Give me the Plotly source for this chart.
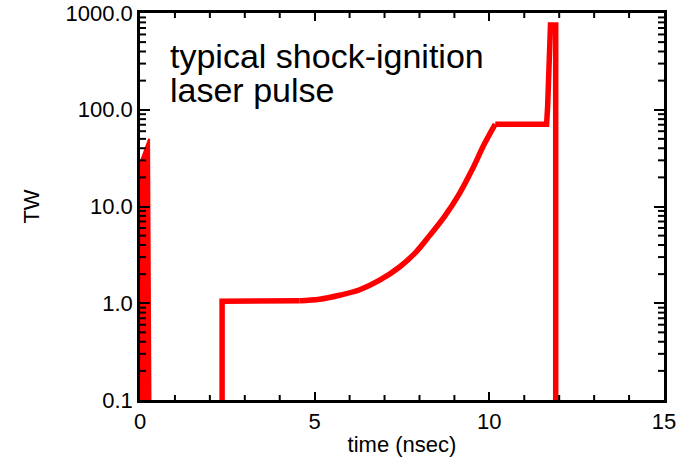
import plotly.graph_objects as go

# Pre-pulse (picket) at t ~ 0
pre_t = [0.0, 0.0, 0.05, 0.10, 0.15, 0.20, 0.26, 0.30, 0.0]
pre_p = [0.1, 28.0, 31.0, 35.0, 39.0, 44.0, 50.0, 0.1, 0.1]

# Foot of the main pulse
foot_t = [2.35, 2.35, 4.57]
foot_p = [0.1, 1.05, 1.06]

# Ramp
ramp_t = [4.57, 5.14, 5.71, 6.29, 6.86, 7.43, 7.9, 8.29, 8.71, 9.14, 9.52, 9.86, 10.17]
ramp_p = [1.06, 1.10, 1.21, 1.38, 1.73, 2.37, 3.38, 5.0, 7.8, 13.5, 24.5, 44.4, 71.0]

# Plateau and ignition spike
spike_t = [10.17, 11.64, 11.67, 11.69, 11.72, 11.75, 11.9, 11.9]
spike_p = [71.0, 71.0, 110.0, 215.0, 480.0, 750.0, 750.0, 0.1]

X_RANGE = [0.0, 15.0]
Y_RANGE_LOG = [-1, 3]
y_tickvals = [0.1, 1, 10, 100, 1000]
y_ticktext = ["0.1", "1.0", "10.0", "100.0", "1000.0"]
y_minor = [m * d for d in (0.1, 1, 10, 100) for m in range(2, 10)]
x_tickvals = [0, 5, 10, 15]
x_minor = [v for v in range(1, 15) if v % 5 != 0]

FONT = "Liberation Sans, Arial, Helvetica, sans-serif"
RED = "#ff0000"
W, H = 688, 460
M = dict(l=140, r=24, t=13, b=60)
PW = W - M["l"] - M["r"]
PH = H - M["t"] - M["b"]

fig = go.Figure()
fig.add_trace(go.Scatter(
    x=pre_t, y=pre_p, mode="lines", fill="toself", fillcolor=RED,
    line=dict(color=RED, width=2), hoverinfo="skip", showlegend=False))
fig.add_trace(go.Scatter(
    x=foot_t, y=foot_p, mode="lines",
    line=dict(color=RED, width=5.5), showlegend=False))
fig.add_trace(go.Scatter(
    x=ramp_t, y=ramp_p, mode="lines",
    line=dict(color=RED, width=5.5, shape="spline", smoothing=1), showlegend=False))
fig.add_trace(go.Scatter(
    x=spike_t, y=spike_p, mode="lines",
    line=dict(color=RED, width=5.5), showlegend=False))

# Minor tick marks on all four sides (inside), as segments in data units
dx = 6.0 * (X_RANGE[1] - X_RANGE[0]) / PW           # 6 px in time units
dlog = 5.0 * (Y_RANGE_LOG[1] - Y_RANGE_LOG[0]) / PH  # 5 px in decades
ylo, yhi = 10 ** Y_RANGE_LOG[0], 10 ** Y_RANGE_LOG[1]
tx, ty = [], []
for v in y_minor:
    tx += [X_RANGE[0], X_RANGE[0] + dx, None, X_RANGE[1] - dx, X_RANGE[1], None]
    ty += [v, v, None, v, v, None]
for v in x_minor:
    tx += [v, v, None, v, v, None]
    ty += [ylo, ylo * 10 ** dlog, None, yhi / 10 ** dlog, yhi, None]
fig.add_trace(go.Scatter(x=tx, y=ty, mode="lines", connectgaps=False,
                         line=dict(color="black", width=2),
                         hoverinfo="skip", showlegend=False))

fig.add_annotation(text="typical shock-ignition", xref="paper", yref="paper",
                   x=0.054, y=0.889, xanchor="left", yanchor="middle",
                   showarrow=False, font=dict(family=FONT, size=34, color="black"))
fig.add_annotation(text="laser pulse", xref="paper", yref="paper",
                   x=0.054, y=0.801, xanchor="left", yanchor="middle",
                   showarrow=False, font=dict(family=FONT, size=34, color="black"))

fig.update_layout(
    width=W, height=H,
    margin=M,
    paper_bgcolor="white", plot_bgcolor="white",
    showlegend=False,
    xaxis=dict(
        range=X_RANGE, tickmode="array", tickvals=x_tickvals,
        ticktext=[str(v) for v in x_tickvals],
        ticks="inside", ticklen=8, tickwidth=2, tickcolor="black",
        showline=True, linewidth=2.5, linecolor="black", mirror="ticks",
        showgrid=False, zeroline=False, automargin=False,
        tickfont=dict(family=FONT, size=22, color="black"),
        title=dict(text="time (nsec)", font=dict(family=FONT, size=22, color="black"), standoff=4),
    ),
    yaxis=dict(
        type="log", range=Y_RANGE_LOG, tickmode="array", tickvals=y_tickvals, ticktext=y_ticktext,
        ticks="inside", ticklen=10, tickwidth=2, tickcolor="black",
        showline=True, linewidth=2.5, linecolor="black", mirror="ticks",
        showgrid=False, zeroline=False, automargin=False,
        tickfont=dict(family=FONT, size=22, color="black"),
        title=dict(text="TW", font=dict(family=FONT, size=22, color="black"), standoff=20),
    ),
)
fig.write_html("out.html")
